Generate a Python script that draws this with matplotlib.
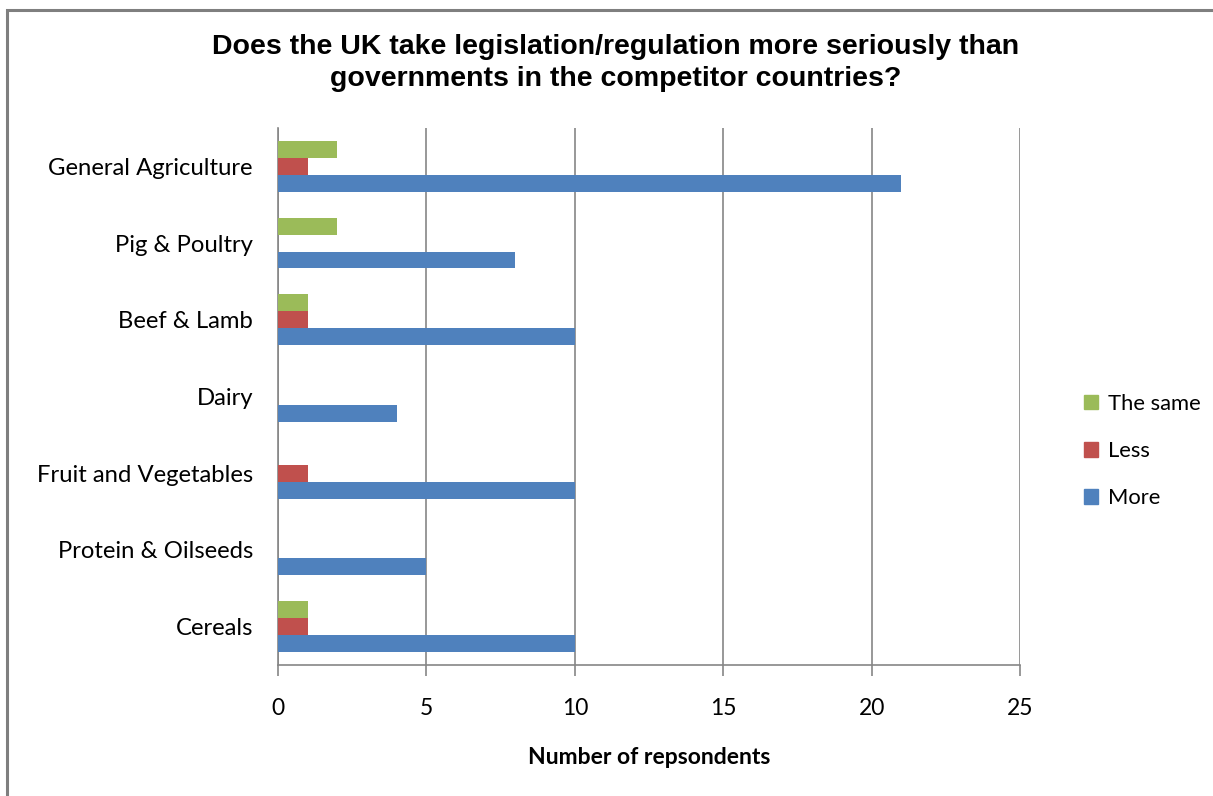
import matplotlib
matplotlib.use("Agg")
import matplotlib.pyplot as plt
import numpy as np
from matplotlib.patches import Rectangle, Patch

categories = ["General Agriculture", "Pig & Poultry", "Beef & Lamb", "Dairy",
              "Fruit and Vegetables", "Protein & Oilseeds", "Cereals"]
more = [21, 8, 10, 4, 10, 5, 10]
less = [1, 0, 1, 0, 1, 0, 1]
same = [2, 2, 1, 0, 0, 0, 1]
xticks = [0, 5, 10, 15, 20, 25]

c_more = "#4F81BD"
c_less = "#C0504D"
c_same = "#9BBB59"
grid_c = "#868686"

W, H = 1213, 796
fig = plt.figure(figsize=(W / 100, H / 100), dpi=100)
fig.patch.set_facecolor("white")

# outer chart frame
fig.patches.append(Rectangle((7 / W, -0.05), 1.2, (H - 10) / H + 0.05,
                             transform=fig.transFigure, fill=False,
                             edgecolor="#7f7f7f", linewidth=2.2))

ax = fig.add_axes([278 / W, 1 - 665 / H, (1020 - 278) / W, (665 - 128) / H])
n = len(categories)
y = np.arange(n)[::-1]  # top category first
bh = 0.22
ax.barh(y - bh, more, height=bh, color=c_more, label="More", zorder=3)
ax.barh(y, less, height=bh, color=c_less, label="Less", zorder=3)
ax.barh(y + bh, same, height=bh, color=c_same, label="The same", zorder=3)

ax.set_xlim(0, 25)
ax.set_ylim(-0.5, n - 0.5)
ax.set_xticks(xticks)
ax.set_xticklabels([str(t) for t in xticks], fontsize=16.5, family="Lato")
ax.set_yticks(y)
ax.set_yticklabels(categories, fontsize=17.2, family="Lato")
ax.tick_params(axis="y", length=0, pad=18)
ax.tick_params(axis="x", length=8, width=1.2, color=grid_c, pad=16, direction="out")
ax.xaxis.grid(True, color=grid_c, linewidth=1.2, zorder=0)
for s in ["top", "right"]:
    ax.spines[s].set_visible(False)
ax.spines["left"].set_color(grid_c)
ax.spines["left"].set_linewidth(1.2)
ax.spines["bottom"].set_color(grid_c)
ax.spines["bottom"].set_linewidth(1.2)
ax.set_axisbelow(True)

ax.set_xlabel("Number of repsondents", fontsize=16.5, fontweight="bold",
              family="Lato", labelpad=20)

fig.text(616 / W, 1 - 63 / H,
         "Does the UK take legislation/regulation more seriously than\ngovernments in the competitor countries?",
         ha="center", va="center", fontsize=20.5, fontweight="bold",
         family="Liberation Sans", linespacing=1.28)

handles = [Patch(color=c_same, label="The same"),
           Patch(color=c_less, label="Less"),
           Patch(color=c_more, label="More")]
leg = fig.legend(handles=handles, loc="center left",
                 bbox_to_anchor=(1064 / W, 1 - 451 / H), frameon=False,
                 prop={"family": "Lato", "size": 15.8}, handlelength=0.65,
                 handleheight=0.65, handletextpad=0.45, labelspacing=1.25)

fig.savefig("out.png", dpi=100, facecolor="white")
